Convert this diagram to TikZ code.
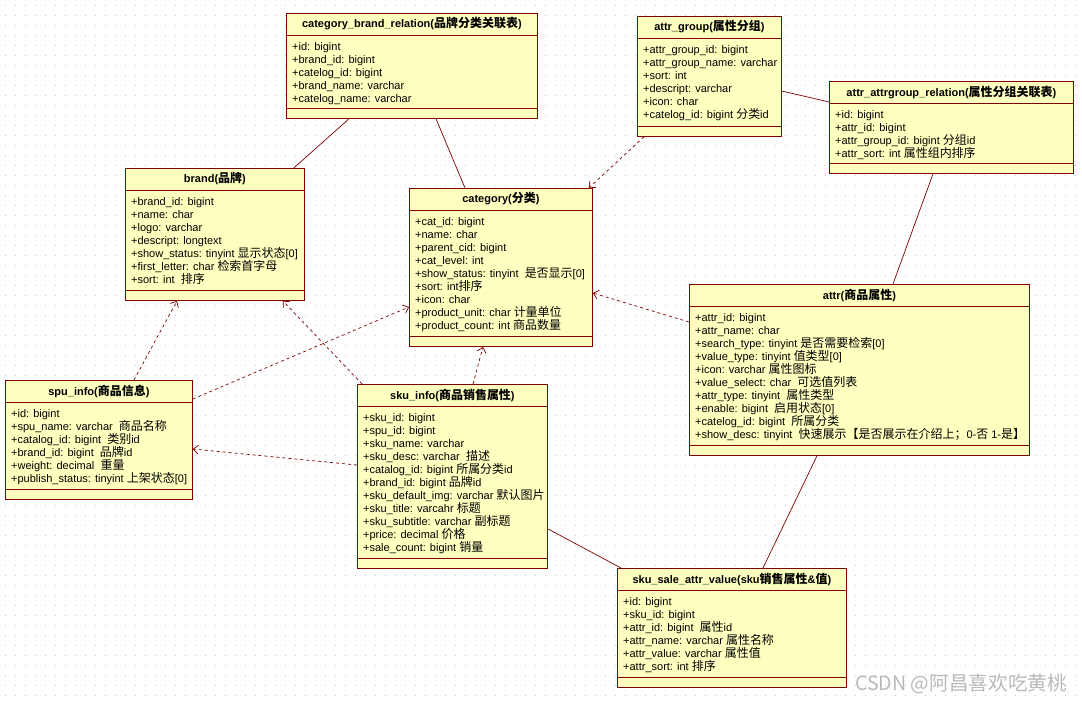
\documentclass[tikz,border=0pt]{standalone}
\usepackage{fontspec}
\setmainfont{Liberation Sans}
\newfontfamily\cjk[Scale=1.09]{Noto Sans CJK SC}
\newcommand{\zh}[1]{{\cjk #1}}
\newcommand{\umlfont}{\fontsize{11}{13}\selectfont\lineskiplimit=-6pt\relax}
\usetikzlibrary{arrows.meta}
\definecolor{umlred}{HTML}{800000}
\definecolor{umlfill}{HTML}{FFFFC0}

\begin{document}
\begin{tikzpicture}[x=1pt, y=-1pt,
  font=\umlfont,
  umlclass/.style={rectangle, draw=umlred, fill=umlfill, line width=0.8pt, anchor=north west, inner sep=0pt},
  umltitle/.style={font=\umlfont\bfseries},
  umlattrs/.style={anchor=north west, align=left, inner sep=0pt, execute at begin node={\rule{0pt}{10pt}}},
  umlline/.style={draw=umlred, line width=0.8pt},
  umldep/.style={draw=umlred, line width=0.7pt, dash pattern=on 3pt off 3pt, -{Straight Barb[length=5pt, width=9pt]}}
]

\useasboundingbox (0,0) rectangle (1082,702);
\fill[white] (0,0) rectangle (1082,702);

% background dots
\foreach \y in {5,15,...,695}
  \draw[gray!45, line width=1pt, dash pattern=on 1pt off 9pt] (5,\y) -- (1082,\y);

% category_brand_relation
\node[umlclass, minimum width=251pt, minimum height=105pt] (catbrand) at (286,13) {};
\draw[umlline] ([yshift=-22pt]catbrand.north west) -- ([yshift=-22pt]catbrand.north east);
\draw[umlline] ([yshift=10pt]catbrand.south west) -- ([yshift=10pt]catbrand.south east);
\node[umltitle] (catbrand-title) at ([yshift=-11pt]catbrand.north) {category\_brand\_relation(\zh{品牌分类关联表})};
\node[umlattrs] (catbrand-attrs) at ([xshift=6pt, yshift=-29pt]catbrand.north west) {+id: bigint\\+brand\_id: bigint\\+catelog\_id: bigint\\+brand\_name: varchar\\+catelog\_name: varchar};

% attr_group
\node[umlclass, minimum width=144pt, minimum height=120pt] (attrgroup) at (637,16) {};
\draw[umlline] ([yshift=-22pt]attrgroup.north west) -- ([yshift=-22pt]attrgroup.north east);
\draw[umlline] ([yshift=10pt]attrgroup.south west) -- ([yshift=10pt]attrgroup.south east);
\node[umltitle] (attrgroup-title) at ([yshift=-11pt]attrgroup.north) {attr\_group(\zh{属性分组})};
\node[umlattrs] (attrgroup-attrs) at ([xshift=6pt, yshift=-29pt]attrgroup.north west) {+attr\_group\_id: bigint\\+attr\_group\_name: varchar\\+sort: int\\+descript: varchar\\+icon: char\\+catelog\_id: bigint \zh{分类}id};

% attr_attrgroup_relation
\node[umlclass, minimum width=244pt, minimum height=92pt] (attrrel) at (829,81) {};
\draw[umlline] ([yshift=-22pt]attrrel.north west) -- ([yshift=-22pt]attrrel.north east);
\draw[umlline] ([yshift=10pt]attrrel.south west) -- ([yshift=10pt]attrrel.south east);
\node[umltitle] (attrrel-title) at ([yshift=-11pt]attrrel.north) {attr\_attrgroup\_relation(\zh{属性分组关联表})};
\node[umlattrs] (attrrel-attrs) at ([xshift=6pt, yshift=-29pt]attrrel.north west) {+id: bigint\\+attr\_id: bigint\\+attr\_group\_id: bigint \zh{分组}id\\+attr\_sort: int \zh{属性组内排序}};

% brand
\node[umlclass, minimum width=179pt, minimum height=132pt] (brand) at (125,168) {};
\draw[umlline] ([yshift=-22pt]brand.north west) -- ([yshift=-22pt]brand.north east);
\draw[umlline] ([yshift=10pt]brand.south west) -- ([yshift=10pt]brand.south east);
\node[umltitle] (brand-title) at ([yshift=-11pt]brand.north) {brand(\zh{品牌})};
\node[umlattrs] (brand-attrs) at ([xshift=6pt, yshift=-29pt]brand.north west) {+brand\_id: bigint\\+name: char\\+logo: varchar\\+descript: longtext\\+show\_status: tinyint \zh{显示状态}[0]\\+first\_letter: char \zh{检索首字母}\\+sort: int~ \zh{排序}};

% category
\node[umlclass, minimum width=183pt, minimum height=158pt] (category) at (409,188) {};
\draw[umlline] ([yshift=-22pt]category.north west) -- ([yshift=-22pt]category.north east);
\draw[umlline] ([yshift=10pt]category.south west) -- ([yshift=10pt]category.south east);
\node[umltitle] (category-title) at ([yshift=-11pt]category.north) {category(\zh{分类})};
\node[umlattrs] (category-attrs) at ([xshift=6pt, yshift=-29pt]category.north west) {+cat\_id: bigint\\+name: char\\+parent\_cid: bigint\\+cat\_level: int\\+show\_status: tinyint~ \zh{是否显示}[0]\\+sort: int\zh{排序}\\+icon: char\\+product\_unit: char \zh{计量单位}\\+product\_count: int \zh{商品数量}};

% attr
\node[umlclass, minimum width=340pt, minimum height=171pt] (attr) at (689,284) {};
\draw[umlline] ([yshift=-22pt]attr.north west) -- ([yshift=-22pt]attr.north east);
\draw[umlline] ([yshift=10pt]attr.south west) -- ([yshift=10pt]attr.south east);
\node[umltitle] (attr-title) at ([yshift=-11pt]attr.north) {attr(\zh{商品属性})};
\node[umlattrs] (attr-attrs) at ([xshift=6pt, yshift=-29pt]attr.north west) {+attr\_id: bigint\\+attr\_name: char\\+search\_type: tinyint \zh{是否需要检索}[0]\\+value\_type: tinyint \zh{值类型}[0]\\+icon: varchar \zh{属性图标}\\+value\_select: char~ \zh{可选值列表}\\+attr\_type: tinyint~ \zh{属性类型}\\+enable: bigint~ \zh{启用状态}[0]\\+catelog\_id: bigint~ \zh{所属分类}\\+show\_desc: tinyint~ \zh{快速展示【是否展示在介绍上；}0-\zh{否} 1-\zh{是】}};

% spu_info
\node[umlclass, minimum width=187pt, minimum height=119pt] (spu) at (5,380) {};
\draw[umlline] ([yshift=-22pt]spu.north west) -- ([yshift=-22pt]spu.north east);
\draw[umlline] ([yshift=10pt]spu.south west) -- ([yshift=10pt]spu.south east);
\node[umltitle] (spu-title) at ([yshift=-11pt]spu.north) {spu\_info(\zh{商品信息})};
\node[umlattrs] (spu-attrs) at ([xshift=6pt, yshift=-29pt]spu.north west) {+id: bigint\\+spu\_name: varchar~ \zh{商品名称}\\+catalog\_id: bigint~ \zh{类别}id\\+brand\_id: bigint~ \zh{品牌}id\\+weight: decimal~ \zh{重量}\\+publish\_status: tinyint \zh{上架状态}[0]};

% sku_info
\node[umlclass, minimum width=190pt, minimum height=184pt] (sku) at (357,384) {};
\draw[umlline] ([yshift=-22pt]sku.north west) -- ([yshift=-22pt]sku.north east);
\draw[umlline] ([yshift=10pt]sku.south west) -- ([yshift=10pt]sku.south east);
\node[umltitle] (sku-title) at ([yshift=-11pt]sku.north) {sku\_info(\zh{商品销售属性})};
\node[umlattrs] (sku-attrs) at ([xshift=6pt, yshift=-29pt]sku.north west) {+sku\_id: bigint\\+spu\_id: bigint\\+sku\_name: varchar\\+sku\_desc: varchar~ \zh{描述}\\+catalog\_id: bigint \zh{所属分类}id\\+brand\_id: bigint \zh{品牌}id\\+sku\_default\_img: varchar \zh{默认图片}\\+sku\_title: varcahr \zh{标题}\\+sku\_subtitle: varchar \zh{副标题}\\+price: decimal \zh{价格}\\+sale\_count: bigint \zh{销量}};

% sku_sale_attr_value
\node[umlclass, minimum width=229pt, minimum height=119pt] (skuattr) at (617,568) {};
\draw[umlline] ([yshift=-22pt]skuattr.north west) -- ([yshift=-22pt]skuattr.north east);
\draw[umlline] ([yshift=10pt]skuattr.south west) -- ([yshift=10pt]skuattr.south east);
\node[umltitle] (skuattr-title) at ([yshift=-11pt]skuattr.north) {sku\_sale\_attr\_value(sku\zh{销售属性}\&\zh{值})};
\node[umlattrs] (skuattr-attrs) at ([xshift=6pt, yshift=-29pt]skuattr.north west) {+id: bigint\\+sku\_id: bigint\\+attr\_id: bigint~ \zh{属性}id\\+attr\_name: varchar \zh{属性名称}\\+attr\_value: varchar \zh{属性值}\\+attr\_sort: int \zh{排序}};

% associations
\draw[umlline, line width=0.7pt] ([xshift=63pt]catbrand.south west) -- ([xshift=-11pt]brand.north east);
\draw[umlline, line width=0.7pt] ([xshift=150pt]catbrand.south west) -- ([xshift=56pt]category.north west);
\draw[umlline, line width=0.7pt] ([yshift=-75pt]attrgroup.north east) -- ([yshift=-21pt]attrrel.north west);
\draw[umlline, line width=0.7pt] ([xshift=104pt]attrrel.south west) -- ([xshift=204pt]attr.north west);
\draw[umlline, line width=0.7pt] ([xshift=128pt]attr.south west) -- ([xshift=146pt]skuattr.north west);
\draw[umlline, line width=0.7pt] ([yshift=40pt]sku.south east) -- ([xshift=4pt]skuattr.north west);

% dependencies
\draw[umldep] ([xshift=7pt]attrgroup.south west) -- ([xshift=-4pt]category.north east);
\draw[umldep] ([yshift=-38pt]attr.north west) -- ([yshift=-105pt]category.north east);
\draw[umldep] ([xshift=129pt]spu.north west) -- ([xshift=52pt]brand.south west);
\draw[umldep] ([xshift=5pt]sku.north west) -- ([xshift=-22pt]brand.south east);
\draw[umldep] ([yshift=-19pt]spu.north east) -- ([yshift=-119pt]category.north west);
\draw[umldep] ([yshift=-81pt]sku.north west) -- ([yshift=-69pt]spu.north east);
\draw[umldep] ([xshift=116pt]sku.north west) -- ([xshift=74pt]category.south west);

% watermark
\node[anchor=base west, inner sep=0pt, text=gray!55, font={\cjk\fontsize{18}{18}\selectfont}] (mark) at (855,690) {CSDN @阿昌喜欢吃黄桃};

\end{tikzpicture}
\end{document}
